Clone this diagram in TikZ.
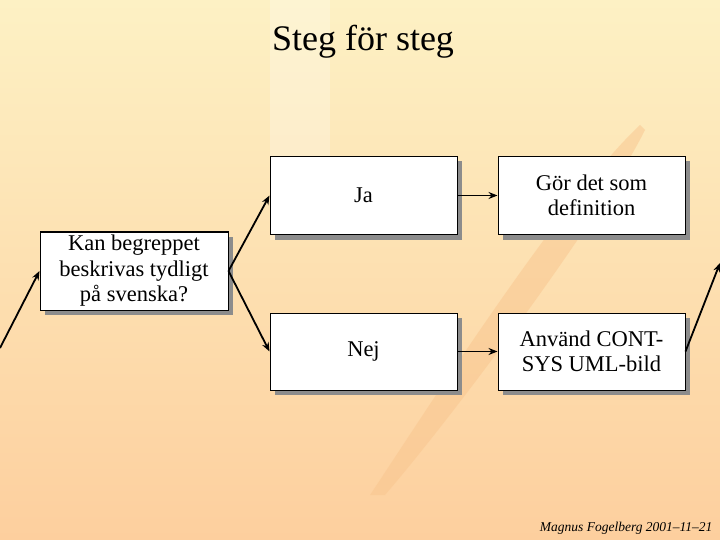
\documentclass[tikz,border=0pt]{standalone}
\usepackage{fontspec}
\setmainfont{Liberation Serif}
\usetikzlibrary{arrows.meta}
\definecolor{bgtop}{HTML}{FDF1C4}
\definecolor{bgbot}{HTML}{FDCF9E}
\definecolor{streak}{HTML}{F9C58E}
\begin{document}
\begin{tikzpicture}[x=1pt,y=-1pt,
  box/.style={draw=black,fill=white,line width=1pt,minimum width=187pt,minimum height=78pt,align=center,font=\fontsize{22.5}{25.5}\selectfont,inner sep=1pt},
  shadowbox/.style={fill=black!45},
  conn/.style={line width=1.8pt,-{Stealth[length=9pt,width=7pt]}}]
\useasboundingbox (0,0) rectangle (720,540);
\shade[top color=bgtop,bottom color=bgbot] (0,0) rectangle (720,540);
\fill[white,opacity=0.25] (270,0) rectangle (330,240);
\fill[streak,opacity=0.5] (640,125) .. controls (560,200) and (420,420) .. (370,495) -- (385,495) .. controls (450,420) and (600,220) .. (645,130) -- cycle;
\node at (363,42) {\fontsize{36}{42}\selectfont Steg för steg};
\foreach \x/\y/\w/\h in {40/232/188/78, 270/156/187/79, 270/313/187/77, 498/156/187/79, 498/313/187/77}
  \fill[shadowbox] (\x+5,\y+5) rectangle (\x+\w+5,\y+\h+5);
\node[box,minimum width=188pt] (q) at (134,271) {Kan begreppet\\beskrivas tydligt\\på svenska?};
\node[box] (ja) at (363.5,195.5) {Ja};
\node[box,minimum height=77pt] (nej) at (363.5,351.5) {Nej};
\node[box] (gor) at (591.5,195.5) {Gör det som\\definition};
\node[box,minimum height=77pt] (anv) at (591.5,351.5) {Använd CONT-\\SYS UML-bild};
\coordinate (in) at (0,348);
\coordinate (out) at (720,263);
\draw[conn] (in) -- (q.west);
\draw[conn] (q.east) -- (ja.west);
\draw[conn] (q.east) -- (nej.west);
\draw[conn] (ja.east) -- (gor.west);
\draw[conn] (nej.east) -- (anv.west);
\draw[conn] (anv.east) -- (out);
\node[anchor=east] (foot) at (716,528) {\fontsize{13.5}{15}\selectfont\itshape Magnus Fogelberg 2001–11–21};
\end{tikzpicture}
\end{document}
